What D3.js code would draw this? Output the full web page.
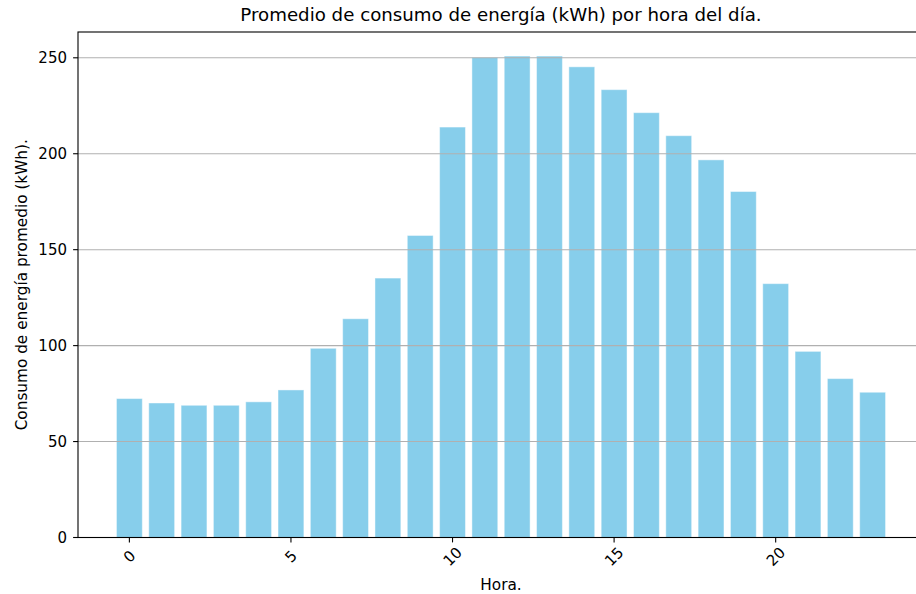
<!DOCTYPE html>
<html>
<head>
<meta charset="utf-8">
<script src="https://cdn.jsdelivr.net/npm/d3@7"></script>
<style>
  body { margin: 0; background: #fff; }
  svg { display: block; font-family: "DejaVu Sans", sans-serif; }
</style>
</head>
<body>
<svg id="chart" width="916" height="594"></svg>
<script>
const hours = d3.range(0, 24);
const consumo = [72.4, 70.1, 68.9, 68.9, 70.7, 76.9, 98.6, 114.0, 135.2, 157.4, 213.9, 250.2,
                 250.9, 250.9, 245.3, 233.4, 221.4, 209.4, 196.8, 180.3, 132.3, 97.0, 82.8, 75.7];
const yTicks = [0, 50, 100, 150, 200, 250];
const xTicks = [0, 5, 10, 15, 20];
const title = "Promedio de consumo de energía (kWh) por hora del día.";
const xLabel = "Hora.";
const yLabel = "Consumo de energía promedio (kWh).";

(function () {
const svg = d3.select("#chart");
const mLeft = 78, mRight = 924, mTop = 32, mBottom = 537.5;

const barW = 0.8;
const xMin = -barW / 2, xMax = 23 + barW / 2;
const xPad = (xMax - xMin) * 0.05;
const x = d3.scaleLinear().domain([xMin - xPad, xMax + xPad]).range([mLeft, mRight]);
const yMaxData = d3.max(consumo);
const y = d3.scaleLinear().domain([0, yMaxData * 1.05]).range([mBottom, mTop]);

// bars
svg.append("g").selectAll("rect").data(hours).join("rect")
  .attr("x", d => x(d - barW / 2))
  .attr("width", d => x(d + barW / 2) - x(d - barW / 2))
  .attr("y", d => y(consumo[d]))
  .attr("height", d => y(0) - y(consumo[d]))
  .attr("fill", "#87ceeb")
  .attr("stroke", "rgba(255,255,255,0.45)")
  .attr("stroke-width", 1);

// grid (drawn over bars)
svg.append("g").selectAll("line").data(yTicks).join("line")
  .attr("x1", mLeft).attr("x2", mRight)
  .attr("y1", d => y(d)).attr("y2", d => y(d))
  .attr("stroke", "#b0b0b0").attr("stroke-width", 1.1);

// spines
svg.append("rect").attr("x", mLeft).attr("y", mTop)
  .attr("width", mRight - mLeft).attr("height", mBottom - mTop)
  .attr("fill", "none").attr("stroke", "#000").attr("stroke-width", 1.1);

// y axis ticks
const yg = svg.append("g");
yg.selectAll("line").data(yTicks).join("line")
  .attr("x1", mLeft - 4.9).attr("x2", mLeft)
  .attr("y1", d => y(d)).attr("y2", d => y(d))
  .attr("stroke", "#000").attr("stroke-width", 1.1);
yg.selectAll("text").data(yTicks).join("text")
  .attr("x", mLeft - 11).attr("y", d => y(d))
  .attr("dy", "0.35em").attr("text-anchor", "end")
  .attr("font-size", 15).attr("fill", "#000")
  .text(d => d);

// x axis ticks
const xg = svg.append("g");
xg.selectAll("line").data(xTicks).join("line")
  .attr("x1", d => x(d)).attr("x2", d => x(d))
  .attr("y1", mBottom).attr("y2", mBottom + 4.9)
  .attr("stroke", "#000").attr("stroke-width", 1.1);
xg.selectAll("text").data(xTicks).join("text")
  .attr("transform", d => `translate(${x(d)},${mBottom + 19}) rotate(-45)`)
  .attr("text-anchor", "middle").attr("dy", "0.35em")
  .attr("font-size", 15).attr("fill", "#000")
  .text(d => d);

// title
svg.append("text").attr("x", (mLeft + mRight) / 2).attr("y", 21)
  .attr("text-anchor", "middle").attr("font-size", 18.2).attr("fill", "#000")
  .text(title);

// axis labels
svg.append("text").attr("x", (mLeft + mRight) / 2).attr("y", 590)
  .attr("text-anchor", "middle").attr("font-size", 15.3).attr("fill", "#000")
  .text(xLabel);
svg.append("text")
  .attr("transform", `translate(27,${(mTop + mBottom) / 2}) rotate(-90)`)
  .attr("text-anchor", "middle").attr("font-size", 15.3).attr("fill", "#000")
  .text(yLabel);
})();
</script>
</body>
</html>
